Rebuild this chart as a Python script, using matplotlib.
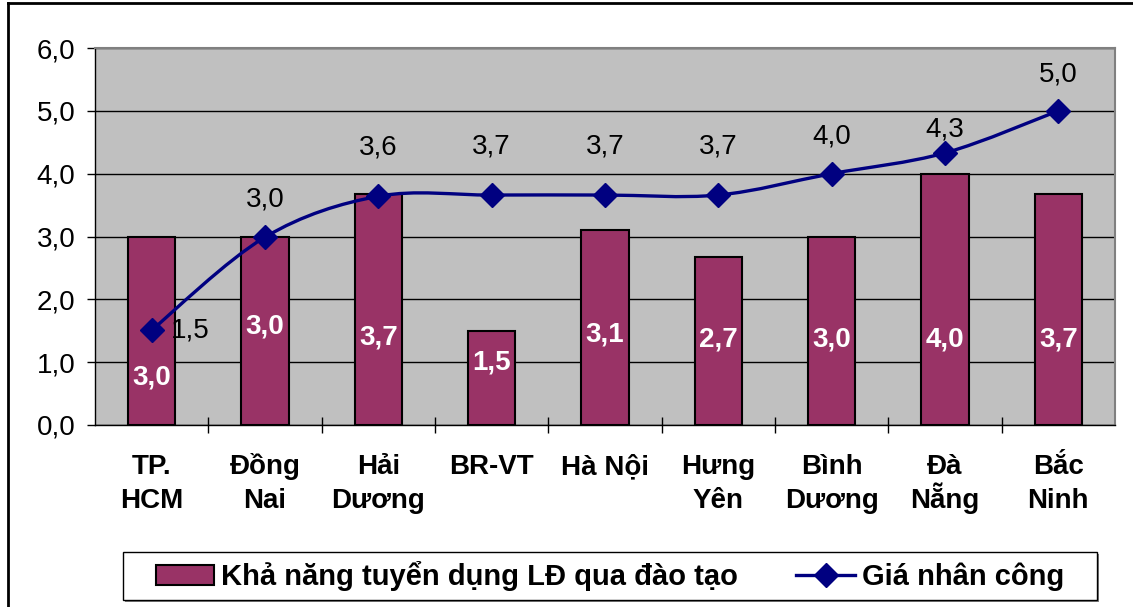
import matplotlib
matplotlib.use("Agg")
import matplotlib.pyplot as plt
from matplotlib.path import Path
from matplotlib.patches import PathPatch, Patch, Rectangle
from matplotlib.lines import Line2D
import numpy as np

plt.rcParams['font.family'] = ['Liberation Sans', 'DejaVu Sans']

categories = ["TP.\nHCM", "Đồng\nNai", "Hải\nDương", "BR-VT", "Hà Nội",
              "Hưng\nYên", "Bình\nDương", "Đà\nNẵng", "Bắc\nNinh"]
bar_values = [3.0, 3.0, 3.67, 1.5, 3.1, 2.67, 3.0, 4.0, 3.67]
line_values = [1.51, 2.99, 3.64, 3.66, 3.66, 3.66, 4.0, 4.33, 5.0]
bar_name = "Khả năng tuyển dụng LĐ qua đào tạo"
line_name = "Giá nhân công"
yticks = [0, 1, 2, 3, 4, 5, 6]

# label layout (positions, not data)
bar_label_y = [0.76, 1.56, 1.4, 1.0, 1.44, 1.36, 1.36, 1.36, 1.36]
line_label_off = [(28, 0), (0, 27), (0, 35), (0, 35), (0, 35), (0, 35), (0, 27), (0, 17), (0, 26)]

BAR = "#993366"
LINE = "#000080"
FS = 20
W, H = 1133, 607

def fmt(v):
    return f"{v:.1f}".replace(".", ",")

fig = plt.figure(figsize=(W/100, H/100), dpi=100)
ax = fig.add_axes([95/W, 1-425/H, (1115-95)/W, (425-48)/H])
ax.set_facecolor("#C0C0C0")

x = np.arange(len(categories))
ax.bar(x, bar_values, width=0.42, color=BAR, edgecolor="black", linewidth=1.5, zorder=3)

# smoothed line (Bezier through data points, Excel-like smoothing)
pts = list(zip(x.astype(float), line_values))
verts = [pts[0]]
codes = [Path.MOVETO]
n = len(pts)
for i in range(n - 1):
    p0 = pts[i - 1] if i > 0 else pts[i]
    p1 = pts[i]
    p2 = pts[i + 1]
    p3 = pts[i + 2] if i + 2 < n else pts[i + 1]
    c1 = (p1[0] + (p2[0] - p0[0]) / 6, p1[1] + (p2[1] - p0[1]) / 6)
    c2 = (p2[0] - (p3[0] - p1[0]) / 6, p2[1] - (p3[1] - p1[1]) / 6)
    verts += [c1, c2, p2]
    codes += [Path.CURVE4] * 3
ax.add_patch(PathPatch(Path(verts, codes), fill=False, edgecolor=LINE, linewidth=2.4, zorder=4))
ax.plot(x, line_values, linestyle="none", marker="D", markersize=12, color=LINE, zorder=5)

for xi, v, ly in zip(x, bar_values, bar_label_y):
    ax.text(xi, ly, fmt(v), ha="center", va="center", color="white",
            fontsize=FS, fontweight="bold", zorder=6)
for xi, v, off in zip(x, line_values, line_label_off):
    ax.annotate(fmt(v), (xi, v), xytext=off, textcoords="offset points",
                ha="center", va="center", fontsize=FS, color="black", zorder=6)

ax.set_xlim(-0.5, len(categories) - 0.5)
ax.set_ylim(0, 6)
ax.set_yticks(yticks)
ax.set_yticklabels([fmt(t) for t in yticks], fontsize=FS)
ax.yaxis.grid(True, color="black", linewidth=1)
ax.set_axisbelow(True)
ax.tick_params(axis="y", direction="out", length=6, pad=8, width=1)

# category labels, two lines each with fixed baselines
ax.set_xticks(x)
ax.set_xticklabels([""] * len(categories))
ax.tick_params(axis="x", which="major", length=0)
ax.set_xticks(np.arange(0.5, len(categories) - 1, 1), minor=True)
ax.tick_params(axis="x", which="minor", direction="inout", length=12, width=1)
baselines = [(425 - 474) / 377, (425 - 508) / 377]
for xi, lab in zip(x, categories):
    for k, part in enumerate(lab.split("\n")):
        ax.text(xi, baselines[k], part, transform=ax.get_xaxis_transform(),
                ha="center", va="baseline", fontsize=FS, fontweight="bold",
                clip_on=False)

for s in ["top", "right"]:
    ax.spines[s].set_color("#808080")
    ax.spines[s].set_linewidth(1.5)
for s in ["left", "bottom"]:
    ax.spines[s].set_color("black")
    ax.spines[s].set_linewidth(1)

# legend box with shadow
fig.add_artist(Rectangle((125/W, 1-602/H), (1097-123)/W, (600-552)/H,
                         transform=fig.transFigure, facecolor="#808080", edgecolor="none", zorder=1))
fig.add_artist(Rectangle((123/W, 1-600/H), (1097-123)/W, (600-552)/H,
                         transform=fig.transFigure, facecolor="white", edgecolor="black",
                         linewidth=1, zorder=2))
handles = [Patch(facecolor=BAR, edgecolor="black", linewidth=1.5),
           Line2D([0], [0], color=LINE, linewidth=2.4, marker="D", markersize=12)]
leg = fig.legend(handles, [bar_name, line_name], loc="center",
                 bbox_to_anchor=(610/W, 1-576/H), ncol=2, frameon=False,
                 prop={"size": 21, "weight": "bold"}, columnspacing=2.0,
                 handlelength=2.0, handletextpad=0.25, borderpad=0.3)
leg.set_zorder(3)

# outer chart frame (left and top visible)
fig.add_artist(Line2D([8/W, 8/W], [0, 1-3/H], color="black", linewidth=2))
fig.add_artist(Line2D([8/W, 1], [1-3/H, 1-3/H], color="black", linewidth=2))

fig.savefig("out.png", dpi=100)
